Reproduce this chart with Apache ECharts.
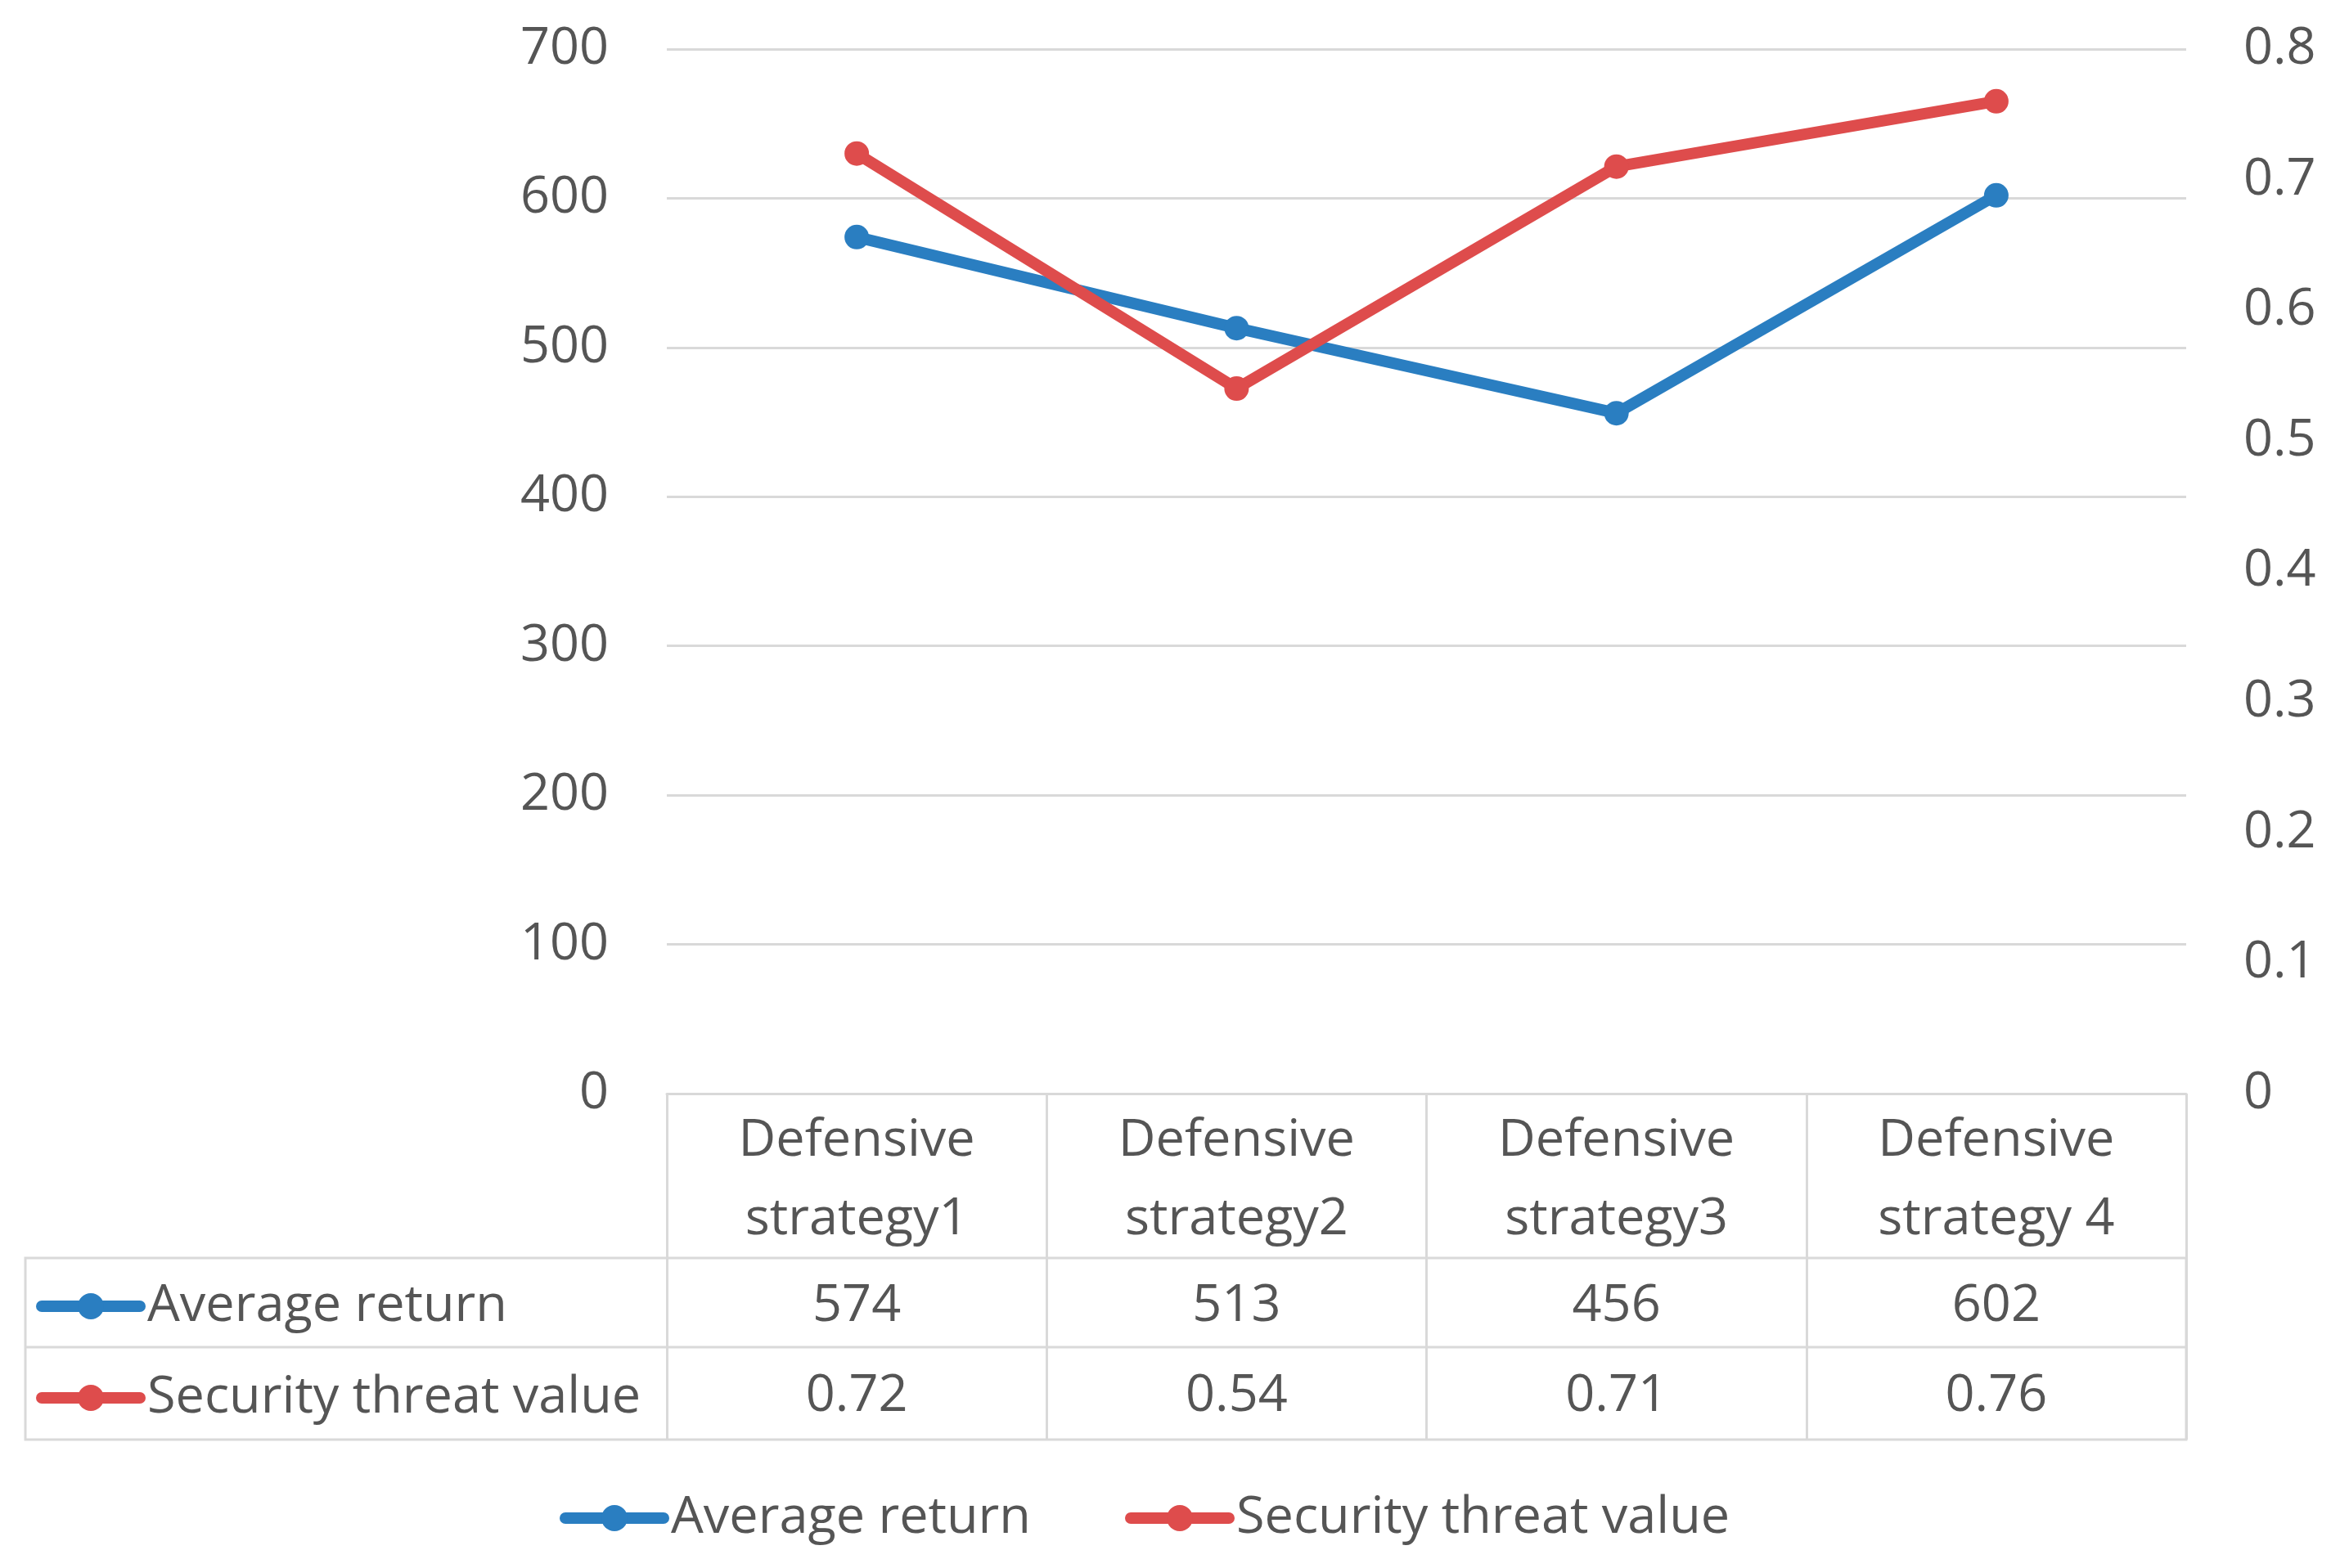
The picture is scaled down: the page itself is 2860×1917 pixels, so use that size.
<!DOCTYPE html>
<html><head><meta charset="utf-8">
<script src="https://cdn.jsdelivr.net/npm/echarts@6/dist/echarts.min.js"></script>
<style>html,body{margin:0;padding:0;background:#fff}#c{width:2860px;height:1917px}</style>
</head><body><div id="c"></div>
<script>
// ---- data ----
const categories = ['Defensive\nstrategy1', 'Defensive\nstrategy2', 'Defensive\nstrategy3', 'Defensive\nstrategy 4'];
const seriesNames = ['Average return', 'Security threat value'];
const averageReturn = [574, 513, 456, 602];
const securityThreat = [0.72, 0.54, 0.71, 0.76];
const leftTicks = [0, 100, 200, 300, 400, 500, 600, 700];
const rightTicks = [0, 0.1, 0.2, 0.3, 0.4, 0.5, 0.6, 0.7, 0.8];

// ---- styling ----
const FONT = 'Open Sans';
const TXT = '#555555';
const GRID = '#D9D9D9';
const BLUE = '#2A7EC1';
const RED = '#DE4C4C';
const FS = 63;
const LW = 14;

const chart = echarts.init(document.getElementById('c'), null, {renderer: 'canvas'});

const legendCommon = {
  data: seriesNames,
  itemWidth: 120, itemHeight: 40,
  lineStyle: {width: LW, cap: 'round'},
  textStyle: {fontFamily: FONT, fontSize: FS, color: TXT, lineHeight: 70, padding: [0, 0, 0, 4]}
};

const option = {
  backgroundColor: '#fff',
  animation: false,
  textStyle: {fontFamily: FONT, color: TXT},
  grid: {left: 815, right: 188, top: 60, bottom: 580, containLabel: false},
  legend: [
    Object.assign({}, legendCommon, {
      orient: 'horizontal', left: 679, top: 1816, itemGap: 115
    }),
    Object.assign({}, legendCommon, {
      orient: 'vertical', left: 39, top: 1557, itemGap: 42, selectedMode: false
    })
  ],
  xAxis: {
    type: 'category',
    data: categories,
    boundaryGap: true,
    axisLine: {show: true, lineStyle: {color: GRID, width: 3}},
    axisTick: {show: true, interval: 0, length: 423, lineStyle: {color: GRID, width: 3}},
    axisLabel: {
      interval: 0,
      margin: 13,
      fontFamily: FONT, fontSize: FS, color: TXT,
      formatter: function (v, i) {
        const parts = v.split('\n');
        return '{h1|' + parts[0] + '}\n{h2|' + parts[1] + '}\n{a|' + averageReturn[i] + '}\n{b|' + securityThreat[i] + '}';
      },
      rich: {
        h1: {fontFamily: FONT, fontSize: FS, color: TXT, lineHeight: 90, align: 'center'},
        h2: {fontFamily: FONT, fontSize: FS, color: TXT, lineHeight: 103, align: 'center'},
        a: {fontFamily: FONT, fontSize: FS, color: TXT, lineHeight: 108, align: 'center'},
        b: {fontFamily: FONT, fontSize: FS, color: TXT, lineHeight: 112, align: 'center'}
      }
    },
    splitLine: {show: false}
  },
  yAxis: [
    {
      type: 'value',
      min: leftTicks[0], max: leftTicks[leftTicks.length - 1],
      interval: leftTicks[1] - leftTicks[0],
      axisLine: {show: false}, axisTick: {show: false},
      axisLabel: {margin: 71, fontFamily: FONT, fontSize: FS, color: TXT},
      splitLine: {show: true, lineStyle: {color: GRID, width: 3}}
    },
    {
      type: 'value',
      position: 'right',
      min: rightTicks[0], max: rightTicks[rightTicks.length - 1],
      interval: 0.1,
      axisLine: {show: false}, axisTick: {show: false},
      axisLabel: {
        margin: 70, fontFamily: FONT, fontSize: FS, color: TXT,
        formatter: function (v) { return v === 0 ? '0' : (+v).toFixed(1); }
      },
      splitLine: {show: false}
    }
  ],
  series: [
    {
      name: seriesNames[0], type: 'line', yAxisIndex: 0,
      data: averageReturn,
      symbol: 'circle', symbolSize: 30,
      lineStyle: {color: BLUE, width: LW},
      itemStyle: {color: BLUE}
    },
    {
      name: seriesNames[1], type: 'line', yAxisIndex: 1,
      data: securityThreat,
      symbol: 'circle', symbolSize: 30,
      lineStyle: {color: RED, width: LW},
      itemStyle: {color: RED}
    }
  ],
  graphic: [
    {type: 'rect', shape: {x: 31, y: 1538, width: 2641, height: 222},
     style: {fill: null, stroke: GRID, lineWidth: 3}, silent: true},
    {type: 'line', shape: {x1: 31, y1: 1647, x2: 2672, y2: 1647},
     style: {stroke: GRID, lineWidth: 3}, silent: true}
  ]
};
chart.setOption(option);
</script>
</body></html>
